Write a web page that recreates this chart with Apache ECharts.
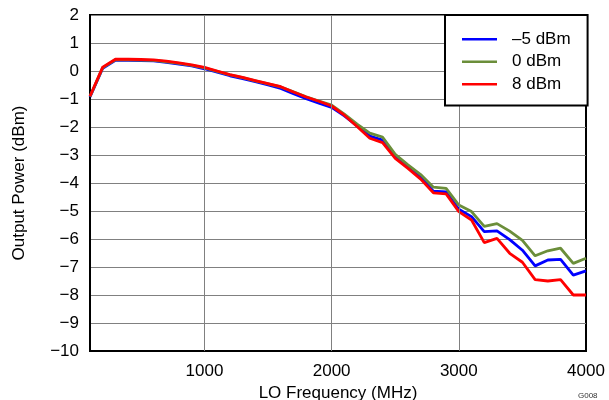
<!DOCTYPE html>
<html>
<head>
<meta charset="utf-8">
<script src="https://cdn.jsdelivr.net/npm/echarts@6/dist/echarts.min.js"></script>
<style>
  html, body { margin: 0; padding: 0; background: #fff; }
  #chart { width: 609px; height: 400px; }
</style>
</head>
<body>
<div id="chart"></div>
<script>
// LO frequency (MHz)
var frecuencias = [];
for (var f = 100; f <= 4000; f += 100) {
    frecuencias.push(f);
}

// Output power (dBm) for each LO drive level
var potenciaMenos5 = [-0.93, 0.10, 0.38, 0.38, 0.37, 0.36, 0.31, 0.25, 0.18, 0.08,
    -0.04, -0.17, -0.27, -0.38, -0.50, -0.62, -0.81, -0.99, -1.15, -1.30,
    -1.60, -1.96, -2.32, -2.47, -3.06, -3.42, -3.80, -4.29, -4.32, -4.94,
    -5.20, -5.74, -5.71, -6.02, -6.40, -6.96, -6.75, -6.73, -7.29, -7.14];
var potencia0 = [-0.91, 0.12, 0.40, 0.40, 0.39, 0.38, 0.33, 0.27, 0.20, 0.11,
    -0.01, -0.14, -0.24, -0.35, -0.46, -0.57, -0.74, -0.92, -1.07, -1.22,
    -1.54, -1.90, -2.22, -2.36, -2.98, -3.35, -3.70, -4.15, -4.19, -4.79,
    -5.02, -5.55, -5.45, -5.72, -6.05, -6.60, -6.42, -6.33, -6.87, -6.69];
var potencia8 = [-0.90, 0.14, 0.42, 0.42, 0.41, 0.40, 0.35, 0.29, 0.22, 0.13,
    0.00, -0.13, -0.23, -0.34, -0.45, -0.56, -0.75, -0.93, -1.08, -1.25,
    -1.58, -1.98, -2.40, -2.56, -3.12, -3.48, -3.86, -4.35, -4.39, -5.02,
    -5.32, -6.13, -5.98, -6.51, -6.83, -7.45, -7.50, -7.45, -8.00, -8.00];

var lineasVerticales = [1000, 2000, 3000];

var niveles = [
    { nombre: '\u20135 dBm', color: '#0000ff', datos: potenciaMenos5 },
    { nombre: '0 dBm', color: '#6b8e3a', datos: potencia0 },
    { nombre: '8 dBm', color: '#ff0000', datos: potencia8 }
];

var fuente = '"Liberation Sans", Arial, sans-serif';

function menos(v) {
    return v < 0 ? '\u2212' + (-v) : String(v);
}

var chart = echarts.init(document.getElementById('chart'));

var series = niveles.map(function (nivel) {
    return {
        name: nivel.nombre,
        type: 'line',
        symbol: 'none',
        z: 3,
        data: frecuencias.map(function (fr, i) { return [fr, nivel.datos[i]]; }),
        lineStyle: { color: nivel.color, width: 2.8 },
        itemStyle: { color: nivel.color }
    };
});

// vertical grid lines at the labelled frequencies
series.unshift({
    name: 'grid',
    type: 'line',
    data: [],
    z: 1,
    markLine: {
        silent: true,
        symbol: 'none',
        label: { show: false },
        lineStyle: { color: '#808080', width: 1, type: 'solid' },
        data: lineasVerticales.map(function (v) { return { xAxis: v }; })
    }
});

var option = {
    animation: false,
    backgroundColor: '#fff',
    grid: {
        left: 90, right: 23, top: 15, bottom: 49,
        outerBoundsMode: 'none',
        containLabel: false,
        show: true, borderColor: '#000', borderWidth: 2
    },
    xAxis: {
        type: 'value',
        min: 100,
        max: 4000,
        interval: 100,
        name: 'LO Frequency (MHz)',
        nameLocation: 'middle',
        nameGap: 32,
        nameTextStyle: { fontFamily: fuente, fontSize: 17, color: '#000' },
        axisLine: { onZero: false, lineStyle: { color: '#000', width: 2 } },
        axisTick: { show: false },
        splitLine: { show: false },
        axisLabel: {
            fontFamily: fuente, fontSize: 17, color: '#000', margin: 12,
            formatter: function (v) { return v % 1000 === 0 ? String(v) : ''; }
        }
    },
    yAxis: {
        type: 'value',
        min: -10,
        max: 2,
        interval: 1,
        name: 'Output Power (dBm)',
        nameLocation: 'middle',
        nameGap: 62,
        nameTextStyle: { fontFamily: fuente, fontSize: 17, color: '#000' },
        axisLine: { show: true, onZero: false, lineStyle: { color: '#000', width: 2 } },
        axisTick: { show: false },
        splitLine: { show: true, lineStyle: { color: '#808080', width: 1 } },
        axisLabel: {
            fontFamily: fuente, fontSize: 17, color: '#000', margin: 11,
            formatter: menos
        }
    },
    legend: {
        data: niveles.map(function (n) { return n.nombre; }),
        orient: 'vertical',
        left: 445,
        top: 15,
        icon: 'rect',
        itemWidth: 35,
        itemHeight: 2.5,
        itemGap: 0,
        padding: [13, 17, 10, 17],
        backgroundColor: '#fff',
        borderColor: '#000',
        borderWidth: 2,
        borderRadius: 0,
        z: 10,
        textStyle: {
            fontFamily: fuente, fontSize: 17, color: '#000',
            lineHeight: 22.5, padding: [0, 0, 0, 10]
        }
    },
    graphic: [{
        type: 'text',
        left: 578,
        top: 392,
        style: { text: 'G008', fontFamily: fuente, fontSize: 8, fill: '#333' }
    }],
    series: series
};

chart.setOption(option);
</script>
</body>
</html>
